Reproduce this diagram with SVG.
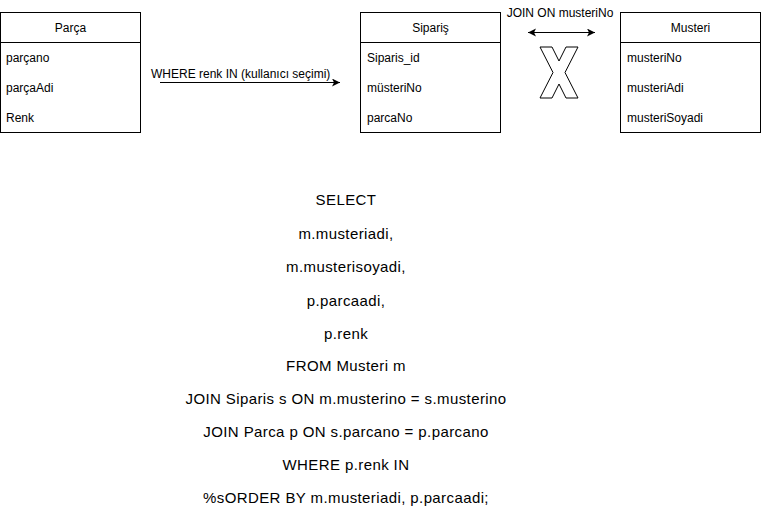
<svg xmlns="http://www.w3.org/2000/svg" width="761" height="527" viewBox="0 0 761 527">
<style>
.box{fill:#fff;stroke:#000;stroke-width:1}
.t{font-family:"Liberation Sans",Arial,sans-serif;font-size:12px;fill:#000}
.sql{font-family:"Liberation Sans",Arial,sans-serif;font-size:15px;letter-spacing:0.4px;fill:#000;text-anchor:middle}
.c{text-anchor:middle}
</style>
<defs>
<marker id="ah" markerWidth="10" markerHeight="10" refX="8" refY="4" orient="auto-start-reverse" markerUnits="userSpaceOnUse">
<path d="M0,0 L8,4 L0,8 L2,4 Z" fill="#000"/>
</marker>
</defs>
<g id="parca">
<rect class="box" x="0.5" y="12.5" width="140" height="120"/>
<line x1="0.5" y1="42.5" x2="140.5" y2="42.5" stroke="#000"/>
<text class="t c" x="70.5" y="32">Parça</text>
<text class="t" x="6" y="62">parçano</text>
<text class="t" x="6" y="92">parçaAdi</text>
<text class="t" x="6" y="122">Renk</text>
</g>
<g id="siparis">
<rect class="box" x="360.5" y="12.5" width="140" height="120"/>
<line x1="360.5" y1="42.5" x2="500.5" y2="42.5" stroke="#000"/>
<text class="t c" x="430.5" y="32">Sipariş</text>
<text class="t" x="367" y="62">Siparis_id</text>
<text class="t" x="367" y="92">müsteriNo</text>
<text class="t" x="367" y="122">parcaNo</text>
</g>
<g id="musteri">
<rect class="box" x="620.5" y="12.5" width="140" height="120"/>
<line x1="620.5" y1="42.5" x2="760.5" y2="42.5" stroke="#000"/>
<text class="t c" x="690.5" y="32">Musteri</text>
<text class="t" x="627" y="62">musteriNo</text>
<text class="t" x="627" y="92">musteriAdi</text>
<text class="t" x="627" y="122">musteriSoyadi</text>
</g>
<g id="cross">
<polygon points="540,47 552,47 559,61 566,47 578,47 565,72.5 578,98 566,98 559,84 552,98 540,98 553,72.5" fill="#fff" stroke="#000" stroke-width="1"/>
</g>
<g id="connectors">
<line x1="160" y1="82.5" x2="340" y2="82.5" stroke="#000" marker-end="url(#ah)"/>
<text class="t" x="151" y="78">WHERE renk IN (kullanıcı seçimi)</text>
<line x1="528" y1="32.5" x2="595" y2="32.5" stroke="#000" marker-start="url(#ah)" marker-end="url(#ah)"/>
<text class="t c" x="560" y="17">JOIN ON musteriNo</text>
</g>
<g id="sql">
<text class="sql" x="346" y="205">SELECT</text>
<text class="sql" x="346" y="239">m.musteriadi,</text>
<text class="sql" x="346" y="272">m.musterisoyadi,</text>
<text class="sql" x="346" y="306">p.parcaadi,</text>
<text class="sql" x="346" y="339">p.renk</text>
<text class="sql" x="346" y="371">FROM Musteri m</text>
<text class="sql" x="346" y="404">JOIN Siparis s ON m.musterino = s.musterino</text>
<text class="sql" x="346" y="437">JOIN Parca p ON s.parcano = p.parcano</text>
<text class="sql" x="346" y="470">WHERE p.renk IN</text>
<text class="sql" x="346" y="503">%sORDER BY m.musteriadi, p.parcaadi;</text>
</g>
</svg>
